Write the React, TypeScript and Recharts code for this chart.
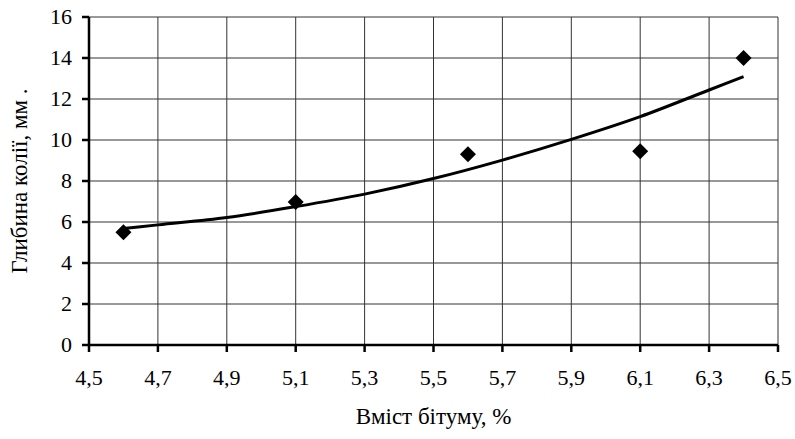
import React from "react";
import {
  ComposedChart,
  Line,
  Scatter,
  XAxis,
  YAxis,
  CartesianGrid,
} from "recharts";

// Measured rut depth against bitumen content
const bitumenContent = [4.6, 5.1, 5.6, 6.1, 6.4];
const rutDepth = [5.5, 6.98, 9.3, 9.45, 14.0];

// Trend curve through the measurements
const trendX = [4.6, 4.7, 4.9, 5.1, 5.3, 5.5, 5.7, 5.9, 6.1, 6.3, 6.4];
const trendY = [5.68, 5.86, 6.22, 6.75, 7.36, 8.12, 9.02, 10.03, 11.14, 12.44, 13.09];

const xTicks = [4.5, 4.7, 4.9, 5.1, 5.3, 5.5, 5.7, 5.9, 6.1, 6.3, 6.5];
const yTicks = [0, 2, 4, 6, 8, 10, 12, 14, 16];

const xTitle = "Вміст бітуму, %";
const yTitle = "Глибина колії, мм .";

const points = bitumenContent.map((x, i) => ({ x, y: rutDepth[i] }));
const trend = trendX.map((x, i) => ({ x, y: trendY[i] }));

const FONT = "Liberation Serif";

const Diamond = (props: any) => {
  const { cx, cy } = props;
  const r = 8;
  return (
    <polygon
      points={`${cx},${cy - r} ${cx + r},${cy} ${cx},${cy + r} ${cx - r},${cy}`}
      fill="#000"
    />
  );
};

const fmt = (v: number) => v.toFixed(1).replace(".", ",");

const XTick = (props: any) => {
  const { x, y, payload } = props;
  return (
    <text
      x={x}
      y={y + 31}
      textAnchor="middle"
      fill="#000"
      fontSize={22}
      fontFamily={FONT}
    >
      {fmt(payload.value)}
    </text>
  );
};

const YTick = (props: any) => {
  const { x, y, payload } = props;
  return (
    <text
      x={x - 8}
      y={y + 7}
      textAnchor="end"
      fill="#000"
      fontSize={22}
      fontFamily={FONT}
    >
      {String(payload.value)}
    </text>
  );
};

export default function App() {
  return (
    <div style={{ position: "absolute", left: 0, top: 0, background: "#fff" }}>
      <ComposedChart
        width={795}
        height={439}
        margin={{ top: 17, right: 17, bottom: 34, left: 0 }}
      >
        <CartesianGrid stroke="#333" strokeWidth={1} />
        <XAxis
          type="number"
          dataKey="x"
          domain={[4.5, 6.5]}
          ticks={xTicks}
          interval={0}
          allowDataOverflow
          height={60}
          axisLine={{ stroke: "#000", strokeWidth: 2.5 }}
          tickLine={{ stroke: "#000", strokeWidth: 2.5 }}
          tickSize={7}
          tick={<XTick />}
          label={{
            value: xTitle,
            position: "insideBottom",
            offset: -19,
            fill: "#000",
            fontSize: 23,
            fontFamily: FONT,
          }}
        />
        <YAxis
          type="number"
          dataKey="y"
          domain={[0, 16]}
          ticks={yTicks}
          interval={0}
          width={89}
          axisLine={{ stroke: "#000", strokeWidth: 2.5 }}
          tickLine={{ stroke: "#000", strokeWidth: 2.5 }}
          tickSize={7}
          tick={<YTick />}
          label={{
            value: yTitle,
            angle: -90,
            position: "insideLeft",
            offset: 19,
            style: { textAnchor: "middle" },
            fill: "#000",
            fontSize: 23,
            fontFamily: FONT,
          }}
        />
        <Line
          data={trend}
          dataKey="y"
          type="monotone"
          stroke="#000"
          strokeWidth={3}
          dot={false}
          isAnimationActive={false}
        />
        <Scatter
          data={points}
          dataKey="y"
          shape={Diamond}
          isAnimationActive={false}
        />
      </ComposedChart>
    </div>
  );
}
